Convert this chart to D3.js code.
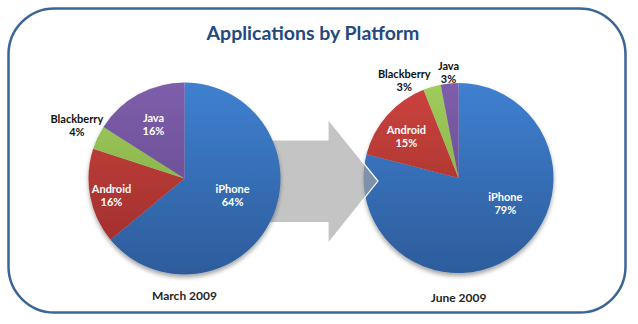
<!DOCTYPE html>
<html>
<head>
<meta charset="utf-8">
<script src="https://cdn.jsdelivr.net/npm/d3@7"></script>
<style>
  body { margin: 0; background: #fff; }
  svg { display: block; font-family: Lato, "Open Sans", sans-serif; }
</style>
</head>
<body>
<div class="chart"></div>
<script>
// data
var platforms = ["iPhone", "Android", "Blackberry", "Java"];
var march2009 = [64, 16, 4, 16];
var june2009 = [79, 15, 3, 3];
var periods = ["March 2009", "June 2009"];

var svgWidth = 638, svgHeight = 324;

var svg = d3.select(".chart").append("svg")
  .attr("width", svgWidth)
  .attr("height", svgHeight);

var defs = svg.append("defs");

// slice colours, top -> bottom of gradient
var sliceColors = {
  iPhone: ["#3f80d0", "#2d5c9b"],
  Android: ["#cc433e", "#992d2a"],
  Blackberry: ["#a0cc5e", "#7aa33d"],
  Java: ["#7e5eab", "#5e4586"]
};
platforms.forEach(function(p) {
  var g = defs.append("linearGradient")
    .attr("id", "grad-" + p)
    .attr("gradientUnits", "userSpaceOnUse")
    .attr("x1", 0).attr("y1", -96).attr("x2", 0).attr("y2", 96);
  g.append("stop").attr("offset", "0%").attr("stop-color", sliceColors[p][0]);
  g.append("stop").attr("offset", "100%").attr("stop-color", sliceColors[p][1]);
});

var shadow = defs.append("filter").attr("id", "shadow")
  .attr("x", "-20%").attr("y", "-20%").attr("width", "140%").attr("height", "140%");
shadow.append("feDropShadow")
  .attr("dx", 0).attr("dy", 3).attr("stdDeviation", 2.2)
  .attr("flood-color", "#000").attr("flood-opacity", 0.35);

// frame
svg.append("rect")
  .attr("x", 8.5).attr("y", 8.5)
  .attr("width", 617).attr("height", 304)
  .attr("rx", 46).attr("ry", 46)
  .attr("fill", "#fff")
  .attr("stroke", "#3b6596")
  .attr("stroke-width", 2.5);

svg.append("text")
  .attr("x", 313).attr("y", 40)
  .attr("text-anchor", "middle")
  .attr("font-size", 19.5)
  .attr("font-weight", "bold")
  .attr("fill", "#24497e")
  .text("Applications by Platform");

var pie = d3.pie().sort(null).value(function(d) { return d; });

// label placement: radius factor and angle nudge (deg) per slice
var charts = [
  { values: march2009, period: periods[0], cx: 184.5, cy: 178.5, r: 96,
    labelR: [0.53, 0.78, 1.25, 0.65], nudge: [-6, -2, 1, -1], periodY: 296 },
  { values: june2009, period: periods[1], cx: 458.5, cy: 178, r: 95,
    labelR: [0.56, 0.70, 1.17, 1.12], nudge: [-24, -3, -13, 0], periodY: 298 }
];

function drawPie(chart) {
  var g = svg.append("g")
    .attr("transform", "translate(" + chart.cx + "," + chart.cy + ")");
  var arc = d3.arc().innerRadius(0).outerRadius(chart.r);
  var arcs = pie(chart.values);

  g.append("g").attr("filter", "url(#shadow)")
    .selectAll("path")
    .data(arcs)
    .enter()
    .append("path")
    .attr("d", arc)
    .attr("fill", function(d, i) { return "url(#grad-" + platforms[i] + ")"; });

  var labels = g.selectAll(".lbl")
    .data(arcs)
    .enter()
    .append("text")
    .attr("class", "lbl")
    .attr("text-anchor", "middle")
    .attr("font-size", 11)
    .attr("font-weight", "bold")
    .attr("fill", function(d, i) { return chart.labelR[i] > 1 ? "#111" : "#fff"; })
    .attr("transform", function(d, i) {
      var a = (d.startAngle + d.endAngle) / 2 + chart.nudge[i] * Math.PI / 180;
      var rr = chart.r * chart.labelR[i];
      return "translate(" + (rr * Math.sin(a)) + "," + (-rr * Math.cos(a)) + ")";
    });
  labels.append("tspan").attr("x", 0).attr("y", -2.5)
    .text(function(d, i) { return platforms[i]; });
  labels.append("tspan").attr("x", 0).attr("y", 10.5)
    .text(function(d) { return d.data + "%"; });

  svg.append("text")
    .attr("x", chart.cx).attr("y", chart.periodY + 4)
    .attr("text-anchor", "middle")
    .attr("font-size", 12)
    .attr("font-weight", "bold")
    .attr("fill", "#262626")
    .text(chart.period);
  return g;
}

// right pie first, then the arrow over it, then the left pie over the arrow
drawPie(charts[1]);

var arrowPts = [[262, 140], [328, 140], [328, 119], [378, 181], [328, 243.5], [328, 222.5], [262, 222.5]];
svg.append("path")
  .attr("d", d3.line()(arrowPts) + "Z")
  .attr("fill", "#a5a5a5")
  .attr("fill-opacity", 0.65)
  .attr("stroke", "#fff")
  .attr("stroke-width", 1.2);

drawPie(charts[0]);
</script>
</body>
</html>
